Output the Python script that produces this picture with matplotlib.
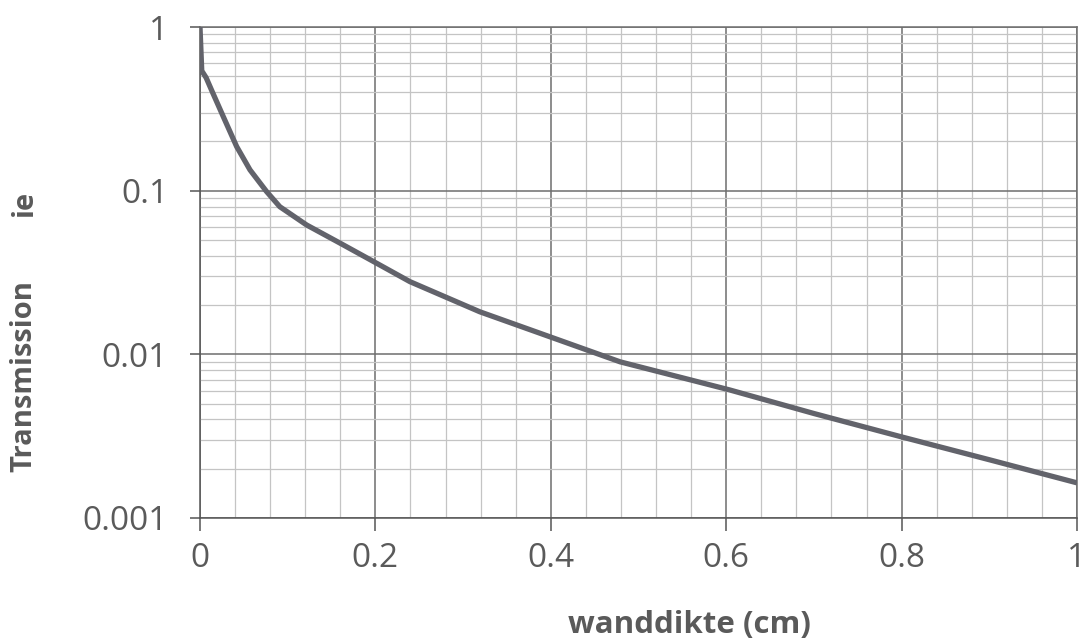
import numpy as np
import matplotlib
matplotlib.use("Agg")
from matplotlib import pyplot as plt
from matplotlib.ticker import FixedLocator, LogLocator, NullFormatter

# values
wanddikte = [0.0, 0.002, 0.007, 0.0133, 0.0266, 0.0418, 0.057, 0.076, 0.091,
             0.1216, 0.16, 0.2015, 0.2394, 0.319, 0.399, 0.479, 0.604, 0.7,
             0.8, 0.9, 1.0]
transmission = [1.0, 0.54, 0.49, 0.41, 0.283, 0.186, 0.134, 0.0986, 0.0798,
                0.0617, 0.0477, 0.036, 0.0278, 0.0182, 0.0128, 0.0090, 0.00606,
                0.00435, 0.00313, 0.00227, 0.00164]
x_ticks = [0, 0.2, 0.4, 0.6, 0.8, 1]
x_ticklabels = ["0", "0.2", "0.4", "0.6", "0.8", "1"]
y_ticks = [0.001, 0.01, 0.1, 1]
y_ticklabels = ["0.001", "0.01", "0.1", "1"]

plt.rcParams['font.family'] = ['Open Sans', 'DejaVu Sans']

fig = plt.figure(figsize=(10.87, 6.44), dpi=100)
ax = fig.add_axes([200 / 1087, 1 - 518 / 644, 877 / 1087, 491 / 644])

ax.set_yscale('log')
ax.set_xlim(0, 1)
ax.set_ylim(0.001, 1)

# grid
ax.xaxis.set_major_locator(FixedLocator(x_ticks))
ax.xaxis.set_minor_locator(FixedLocator(np.arange(0, 1.0001, 0.04)))
ax.yaxis.set_major_locator(FixedLocator(y_ticks))
ax.yaxis.set_minor_locator(LogLocator(base=10, subs=np.arange(2, 10)))
ax.yaxis.set_minor_formatter(NullFormatter())
ax.grid(which='major', color='#6e6e6e', linewidth=1.1)
ax.grid(which='minor', color='#c4c4c4', linewidth=0.9)
ax.set_axisbelow(True)

ax.plot(wanddikte, transmission, color='#62636b', linewidth=3.8,
        solid_joinstyle='round', solid_capstyle='butt', zorder=3)

ax.set_xticklabels(x_ticklabels)
ax.set_yticklabels(y_ticklabels)
ax.tick_params(which='major', direction='out', color='#555555', width=1.1,
               labelsize=24, labelcolor='#5a5a5a')
ax.tick_params(axis='x', which='major', length=9, pad=8)
ax.tick_params(axis='y', which='major', length=7, pad=16)
ax.tick_params(which='minor', length=0)

for side in ['left', 'bottom']:
    ax.spines[side].set_color('#555555')
    ax.spines[side].set_linewidth(1.1)
for side in ['top', 'right']:
    ax.spines[side].set_color('#6e6e6e')
    ax.spines[side].set_linewidth(1.1)

fig.text(689 / 1087, 1 - 625 / 644, "wanddikte (cm)", ha='center', va='center',
         fontsize=22.5, fontweight='bold', color='#5a5a5a')
fig.text(24 / 1087, 1 - 376 / 644, "Transmission", ha='center', va='center',
         rotation=90, fontsize=21, fontweight='bold', color='#5a5a5a')
fig.text(24 / 1087, 1 - 203 / 644, "ie", ha='center', va='center',
         rotation=90, fontsize=21, fontweight='bold', color='#5a5a5a')

fig.savefig("out.png", dpi=100)
